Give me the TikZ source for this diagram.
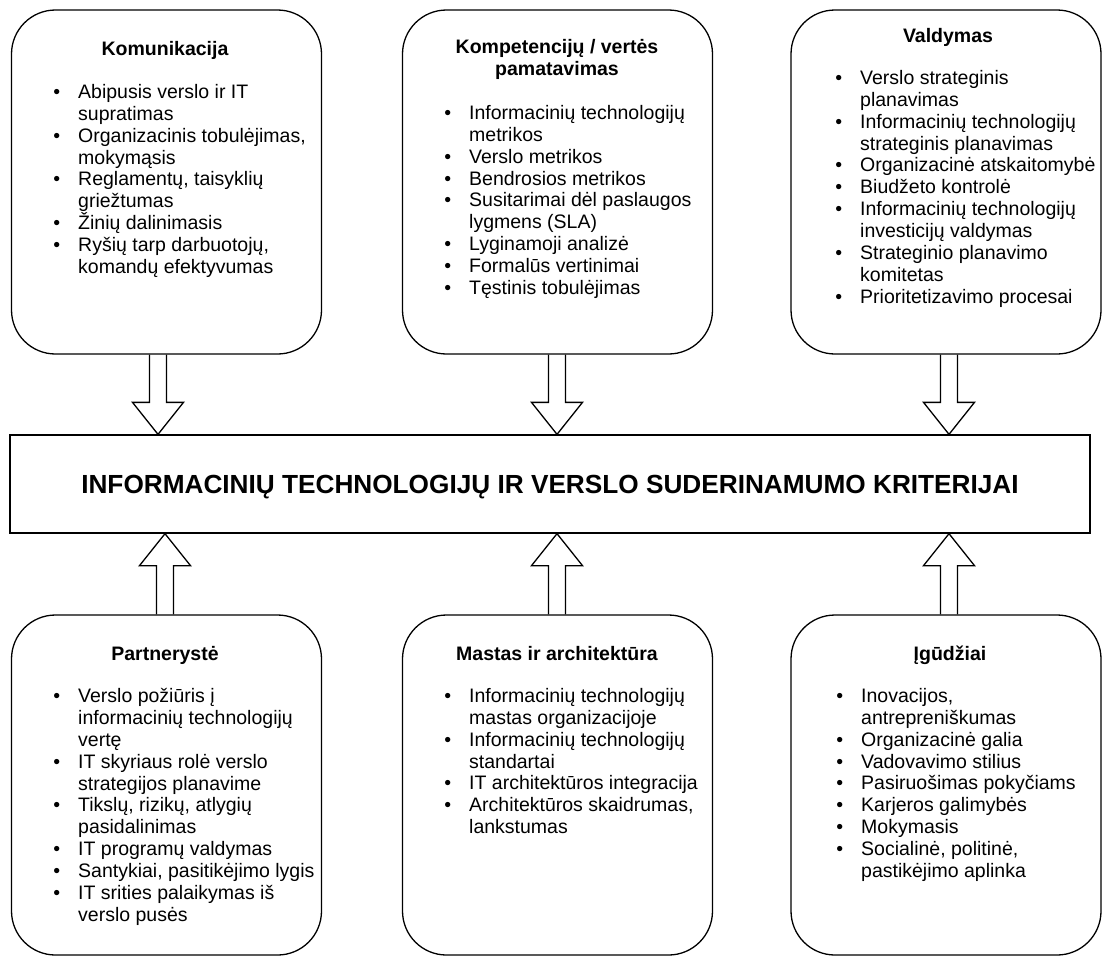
\documentclass[tikz,border=0pt]{standalone}
\usepackage{fontspec}
\setmainfont{Liberation Sans}
\usetikzlibrary{calc}

\tikzstyle{groupbox} = [
    rectangle,
    rounded corners=44pt,
    minimum width=310pt,
    minimum height=344pt,
    line width=1.3pt,
    draw=black
]
\tikzstyle{criteria} = [
    rectangle,
    minimum width=1080pt,
    minimum height=98pt,
    line width=1.3pt,
    draw=black,
    font=\fontsize{26.2}{30}\selectfont\bfseries,
    text height=18.8pt,
    text depth=0pt
]
\tikzstyle{boxtitle} = [
    anchor=north,
    align=center,
    inner sep=0pt,
    font=\fontsize{19.5}{21.9}\selectfont\bfseries,
    execute at begin node={\rule{0pt}{16pt}}
]
\tikzstyle{boxlist} = [
    anchor=north west,
    align=left,
    inner sep=0pt,
    font=\fontsize{19.5}{21.9}\selectfont,
    execute at begin node={\rule{0pt}{16pt}}
]
\tikzstyle{bigarrow} = [line width=1.3pt, line join=miter]

\newcommand{\itm}{\llap{\textbullet\hspace{18pt}}}
\newcommand{\fatarrow}[2]{%
  \draw[bigarrow] let \p1=(#1), \p2=(#2), \p3=($(#2)!32pt!(#1)$) in
    (\x1-8.5pt,\y1) -- (\x1-8.5pt,\y3) -- (\x1-25.5pt,\y3) -- (\x2,\y2)
    -- (\x1+25.5pt,\y3) -- (\x1+8.5pt,\y3) -- (\x1+8.5pt,\y1);}

\begin{document}
\begin{tikzpicture}[x=1pt, y=-1pt]
\useasboundingbox (0,0) rectangle (1102,956);

% top row
\node (kom) [groupbox] at (166.5,182) {};
\node (komp) [groupbox] at (557.5,182) {};
\node (vald) [groupbox] at (946,182) {};

\node (komtitle) [boxtitle] at (165,39) {Komunikacija};
\node (komlist) [boxlist] at (78,84)
{\itm Abipusis verslo ir IT\\supratimas\\
 \itm Organizacinis tobulėjimas,\\mokymąsis\\
 \itm Reglamentų, taisyklių\\griežtumas\\
 \itm Žinių dalinimasis\\
 \itm Ryšių tarp darbuotojų,\\komandų efektyvumas};

\node (komptitle) [boxtitle] at (557,39) {Kompetencijų / vertės\\pamatavimas};
\node (komplist) [boxlist] at (469,105)
{\itm Informacinių technologijų\\metrikos\\
 \itm Verslo metrikos\\
 \itm Bendrosios metrikos\\
 \itm Susitarimai dėl paslaugos\\lygmens (SLA)\\
 \itm Lyginamoji analizė\\
 \itm Formalūs vertinimai\\
 \itm Tęstinis tobulėjimas};

\node (valdtitle) [boxtitle] at (948,26) {Valdymas};
\node (valdlist) [boxlist] at (860,70)
{\itm Verslo strateginis\\planavimas\\
 \itm Informacinių technologijų\\strateginis planavimas\\
 \itm Organizacinė atskaitomybė\\
 \itm Biudžeto kontrolė\\
 \itm Informacinių technologijų\\investicijų valdymas\\
 \itm Strateginio planavimo\\komitetas\\
 \itm Prioritetizavimo procesai};

% middle
\node (crit) [criteria] at (550,484)
{INFORMACINIŲ TECHNOLOGIJŲ IR VERSLO SUDERINAMUMO KRITERIJAI};

% bottom row
\node (part) [groupbox, minimum height=340pt] at (166.5,785) {};
\node (mast) [groupbox, minimum height=340pt] at (557.5,785) {};
\node (igud) [groupbox, minimum height=340pt] at (946,785) {};

\node (parttitle) [boxtitle] at (165,644) {Partnerystė};
\node (partlist) [boxlist] at (78,688)
{\itm Verslo požiūris į\\informacinių technologijų\\vertę\\
 \itm IT skyriaus rolė verslo\\strategijos planavime\\
 \itm Tikslų, rizikų, atlygių\\pasidalinimas\\
 \itm IT programų valdymas\\
 \itm Santykiai, pasitikėjimo lygis\\
 \itm IT srities palaikymas iš\\verslo pusės};

\node (masttitle) [boxtitle] at (557,644) {Mastas ir architektūra};
\node (mastlist) [boxlist] at (469,688)
{\itm Informacinių technologijų\\mastas organizacijoje\\
 \itm Informacinių technologijų\\standartai\\
 \itm IT architektūros integracija\\
 \itm Architektūros skaidrumas,\\lankstumas};

\node (igudtitle) [boxtitle] at (950,644) {Įgūdžiai};
\node (igudlist) [boxlist] at (861,688)
{\itm Inovacijos,\\antrepreniškumas\\
 \itm Organizacinė galia\\
 \itm Vadovavimo stilius\\
 \itm Pasiruošimas pokyčiams\\
 \itm Karjeros galimybės\\
 \itm Mokymasis\\
 \itm Socialinė, politinė,\\pastikėjimo aplinka};

% arrows into the criteria box
\coordinate (komout) at ([xshift=-8.5pt]kom.south);
\coordinate (kompout) at ([xshift=-0.5pt]komp.south);
\coordinate (valdout) at ([xshift=3pt]vald.south);
\coordinate (partout) at ([xshift=-1.5pt]part.north);
\coordinate (mastout) at ([xshift=-0.5pt]mast.north);
\coordinate (igudout) at ([xshift=3pt]igud.north);

\fatarrow{komout}{komout |- crit.north}
\fatarrow{kompout}{kompout |- crit.north}
\fatarrow{valdout}{valdout |- crit.north}
\fatarrow{partout}{partout |- crit.south}
\fatarrow{mastout}{mastout |- crit.south}
\fatarrow{igudout}{igudout |- crit.south}

\end{tikzpicture}
\end{document}
